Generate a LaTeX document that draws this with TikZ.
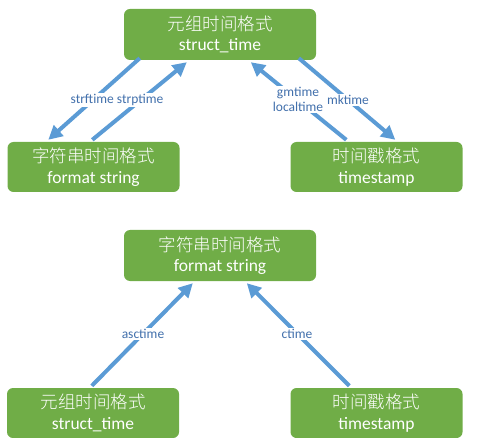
\documentclass[tikz,border=0pt]{standalone}
\usepackage{fontspec}
\setmainfont{Carlito}
\newfontfamily\cjk{Noto Sans CJK SC Light}
\usetikzlibrary{arrows.meta}
\begin{document}
\begin{tikzpicture}[x=1pt,y=-1pt,line cap=round,line join=round,
  box/.style={fill=boxgreen,rounded corners=6pt,text=white,align=center,
    minimum width=192pt,minimum height=51pt,inner sep=0pt,
    font=\fontsize{17.5}{20.5}\selectfont},
  smallbox/.style={box,minimum width=172pt,minimum height=50pt},
  conv/.style={draw=arrowblue,line width=4pt,line cap=butt,
    -{Triangle[length=14pt,width=14pt]}},
  func/.style={fill=white,text=labelblue,inner sep=1pt,align=center,
    font=\fontsize{13.5}{15}\selectfont}]
  \definecolor{boxgreen}{RGB}{112,173,71}
  \definecolor{arrowblue}{RGB}{91,155,213}
  \definecolor{labelblue}{RGB}{66,112,172}

  \useasboundingbox (0,0) rectangle (500,438);

  % upper diagram
  \node[box] (st) at (220,34.5) {{\cjk\fontsize{17.5}{20.5}\selectfont 元组时间格式}\\struct\_time};
  \node[smallbox] (fs) at (93.5,167) {{\cjk\fontsize{17.5}{20.5}\selectfont 字符串时间格式}\\format string};
  \node[smallbox] (ts) at (376.5,167) {{\cjk\fontsize{17.5}{20.5}\selectfont 时间戳格式}\\timestamp};

  \draw[conv] ([shift={(16,-2)}]st.south west) -- ([shift={(41,-2)}]fs.north west);
  \draw[conv] ([shift={(85,-2)}]fs.north west) -- ([shift={(63,2)}]st.south west);
  \draw[conv] ([shift={(56,-2)}]ts.north west) -- ([shift={(127,2)}]st.south west);
  \draw[conv] ([shift={(175,-2)}]st.south west) -- ([shift={(105,-2)}]ts.north west);

  \node[func] (fmt) at (117,100) {strftime strptime};
  \node[func] (gm) at (298,99.5) {gmtime\\localtime};
  \node[func] (mk) at (348,100) {mktime};

  % lower diagram
  \node[box] (fs2) at (220,255.5) {{\cjk\fontsize{17.5}{20.5}\selectfont 字符串时间格式}\\format string};
  \node[smallbox] (st2) at (93,413) {{\cjk\fontsize{17.5}{20.5}\selectfont 元组时间格式}\\struct\_time};
  \node[smallbox] (ts2) at (376.5,413) {{\cjk\fontsize{17.5}{20.5}\selectfont 时间戳格式}\\timestamp};

  \draw[conv] ([shift={(85,-2)}]st2.north west) -- ([shift={(69,2)}]fs2.south west);
  \draw[conv] ([shift={(59,-2)}]ts2.north west) -- ([shift={(123,2)}]fs2.south west);

  \node[func] (asc) at (143,334) {asctime};
  \node[func] (ct) at (297,334) {ctime};
\end{tikzpicture}
\end{document}
